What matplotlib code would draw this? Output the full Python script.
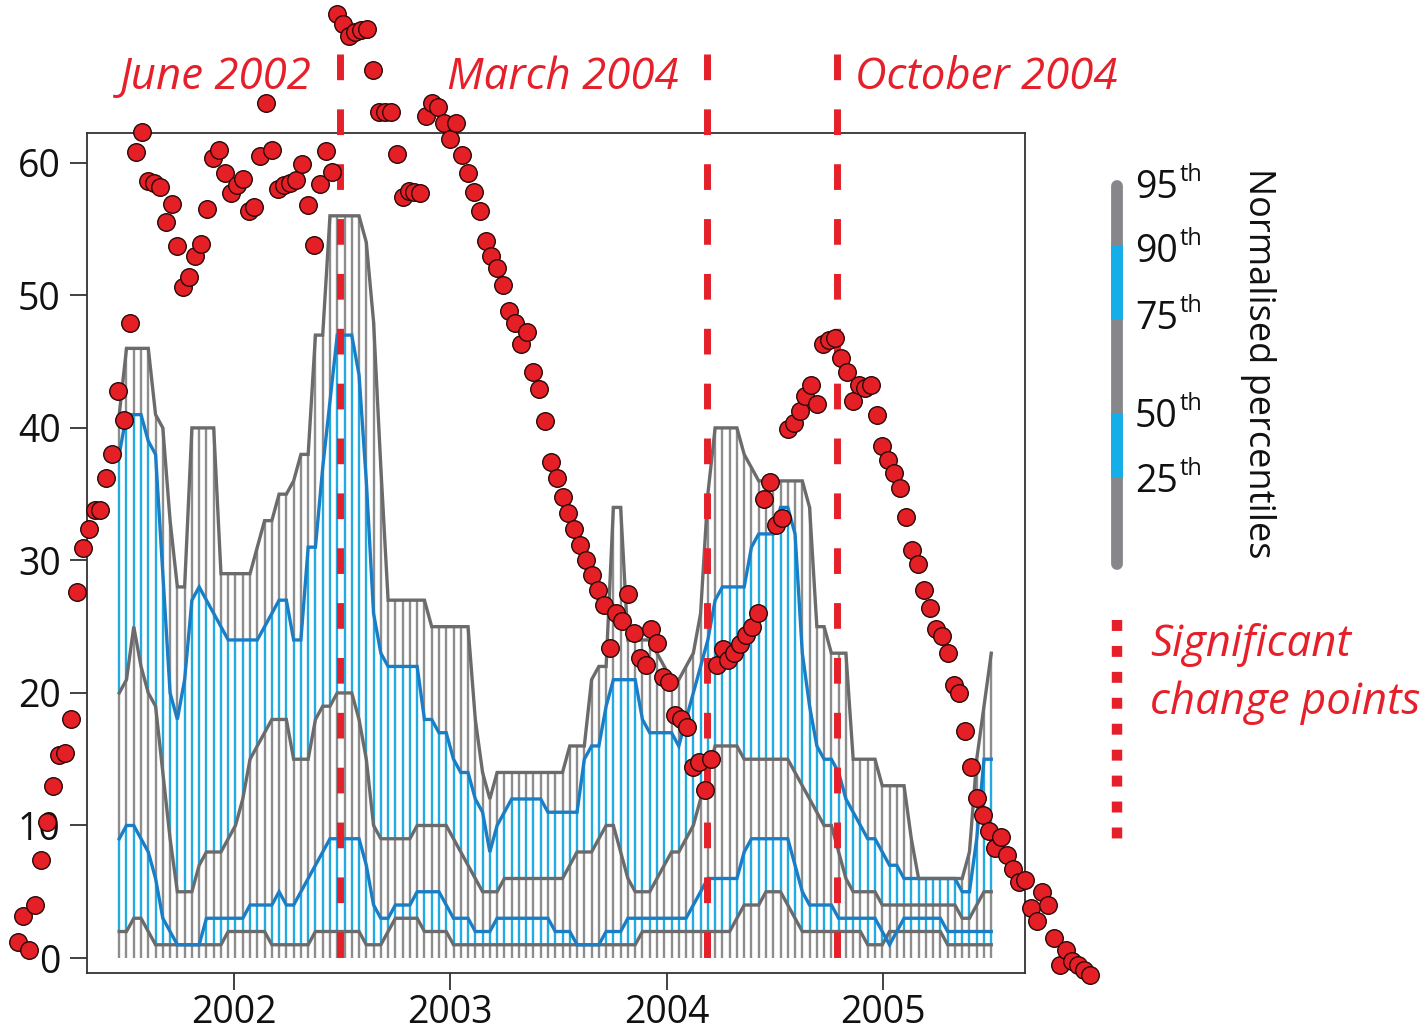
import numpy as np
import matplotlib
matplotlib.use("Agg")
import matplotlib.pyplot as plt

plt.rcParams['font.family'] = ['Open Sans', 'DejaVu Sans']

# ===== Data =====
# percentile bands, one value per time step (decimal years from mid 2001 to mid 2005)
p95 = [41, 46, 46, 46, 46, 41, 40, 33, 28, 28,
       40, 40, 40, 40, 29, 29, 29, 29, 29, 31,
       33, 33, 35, 35, 36, 38, 38, 47, 47, 56,
       56, 56, 56, 56, 54, 48, 37, 27, 27, 27,
       27, 27, 27, 25, 25, 25, 25, 25, 25, 18,
       14, 12, 14, 14, 14, 14, 14, 14, 14, 14,
       14, 14, 16, 16, 16, 21, 22, 22, 34, 34,
       24, 24, 24, 24, 23, 22, 21, 21, 22, 23,
       26, 35, 40, 40, 40, 40, 38, 37, 36, 36,
       36, 36, 36, 36, 36, 34, 25, 25, 23, 23,
       23, 15, 15, 15, 15, 13, 13, 13, 13, 9,
       6, 6, 6, 6, 6, 6, 6, 8, 15, 19, 23]
p90 = [38, 41, 41, 41, 39, 38, 29, 20, 18, 21,
       27, 28, 27, 26, 25, 24, 24, 24, 24, 24,
       25, 26, 27, 27, 24, 24, 31, 31, 37, 42,
       47, 47, 47, 44, 36, 26, 23, 22, 22, 22,
       22, 22, 18, 18, 17, 17, 15, 14, 14, 12,
       11, 8, 10, 11, 12, 12, 12, 12, 12, 11,
       11, 11, 11, 11, 15, 16, 16, 19, 21, 21,
       21, 21, 18, 17, 17, 17, 17, 16, 18, 20,
       22, 24, 27, 28, 28, 28, 28, 31, 32, 32,
       32, 34, 34, 32, 23, 19, 16, 15, 15, 14,
       12, 11, 10, 9, 9, 8, 7, 7, 6, 6,
       6, 6, 6, 6, 6, 6, 5, 5, 9, 15, 15]
p75 = [20, 21, 25, 22, 20, 19, 14, 9, 5, 5,
       5, 7, 8, 8, 8, 9, 10, 12, 15, 16,
       17, 18, 18, 18, 15, 15, 15, 18, 19, 19,
       20, 20, 20, 18, 15, 10, 9, 9, 9, 9,
       9, 10, 10, 10, 10, 10, 9, 8, 7, 6,
       5, 5, 5, 6, 6, 6, 6, 6, 6, 6,
       6, 6, 7, 8, 8, 8, 9, 10, 10, 8,
       6, 5, 5, 5, 6, 7, 8, 8, 9, 10,
       12, 14, 16, 16, 16, 16, 15, 15, 15, 15,
       15, 15, 15, 14, 13, 12, 11, 10, 10, 8,
       6, 5, 5, 5, 5, 4, 4, 4, 4, 4,
       4, 4, 4, 4, 4, 4, 3, 3, 4, 5, 5]
p50 = [9, 10, 10, 9, 8, 6, 3, 2, 1, 1,
       1, 1, 3, 3, 3, 3, 3, 3, 4, 4,
       4, 4, 5, 4, 4, 5, 6, 7, 8, 9,
       9, 9, 9, 9, 7, 4, 3, 3, 4, 4,
       4, 5, 5, 5, 5, 4, 3, 3, 3, 2,
       2, 2, 3, 3, 3, 3, 3, 3, 3, 3,
       2, 2, 2, 1, 1, 1, 1, 2, 2, 2,
       3, 3, 3, 3, 3, 3, 3, 3, 3, 4,
       5, 6, 6, 6, 6, 6, 8, 9, 9, 9,
       9, 9, 9, 7, 5, 4, 4, 4, 4, 3,
       3, 3, 3, 3, 3, 2, 1, 2, 3, 3,
       3, 3, 3, 3, 2, 2, 2, 2, 2, 2, 2]
p25 = [2, 2, 3, 3, 2, 1, 1, 1, 1, 1,
       1, 1, 1, 1, 1, 2, 2, 2, 2, 2,
       2, 1, 1, 1, 1, 1, 1, 2, 2, 2,
       2, 2, 2, 2, 1, 1, 1, 2, 3, 3,
       3, 3, 2, 2, 2, 2, 1, 1, 1, 1,
       1, 1, 1, 1, 1, 1, 1, 1, 1, 1,
       1, 1, 1, 1, 1, 1, 1, 1, 1, 1,
       1, 1, 2, 2, 2, 2, 2, 2, 2, 2,
       2, 2, 2, 2, 2, 3, 4, 4, 4, 5,
       5, 5, 4, 3, 2, 2, 2, 2, 2, 2,
       2, 2, 2, 1, 1, 1, 2, 2, 2, 2,
       2, 2, 2, 2, 1, 1, 1, 1, 1, 1, 1]
pct_start, pct_end = 2001.47, 2005.50

# observed series, one point every 10 days from 1 Jan 2001
obs = [1.2, 3.2, 0.6, 4.0, 7.4, 10.3, 13.0, 15.3, 15.5, 18.0,
       27.6, 30.9, 32.4, 33.8, 33.8, 36.2, 38.0, 42.8, 40.6, 47.9,
       60.8, 62.3, 58.6, 58.5, 58.2, 55.5, 56.9, 53.7, 50.6, 51.4,
       53.0, 53.9, 56.5, 60.4, 61.0, 59.2, 57.7, 58.3, 58.8, 56.4,
       56.7, 60.5, 64.5, 61.0, 58.0, 58.3, 58.5, 58.7, 59.9, 56.8,
       53.8, 58.4, 60.9, 59.3, 71.2, 70.5, 69.6, 69.9, 70.0, 70.1,
       67.0, 63.8, 63.8, 63.8, 60.7, 57.4, 57.9, 57.8, 57.7, 63.5,
       64.5, 64.2, 63.0, 61.8, 63.0, 60.6, 59.2, 57.8, 56.4, 54.1,
       53.0, 52.1, 50.8, 48.8, 47.9, 46.3, 47.2, 44.2, 42.9, 40.5,
       37.4, 36.2, 34.8, 33.6, 32.4, 31.2, 30.0, 28.9, 27.8, 26.6,
       23.4, 26.0, 25.4, 27.5, 24.5, 22.6, 22.1, 24.8, 23.8, 21.2,
       20.8, 18.3, 18.0, 17.4, 14.4, 14.8, 12.7, 15.0, 22.1, 23.3,
       22.5, 23.0, 23.7, 24.4, 25.0, 26.0, 34.6, 35.9, 32.7, 33.2,
       39.9, 40.4, 41.3, 42.4, 43.2, 41.8, 46.3, 46.6, 46.8, 45.3,
       44.2, 42.0, 43.2, 43.0, 43.2, 41.0, 38.6, 37.6, 36.6, 35.5,
       33.3, 30.8, 29.7, 27.8, 26.4, 24.8, 24.3, 23.0, 20.6, 20.0,
       17.1, 14.4, 12.1, 10.8, 9.6, 8.3, 9.1, 7.8, 6.7, 5.7,
       5.9, 3.8, 2.8, 5.0, 4.0, 1.5, -0.5, 0.6, -0.2, -0.5,
       -0.9, -1.3]
obs_start = 2001.0
obs_step_days = 10

change_points = [2002.49, 2004.185, 2004.785]
change_labels = ['June 2002', 'March 2004', 'October 2004']

years = [2002, 2003, 2004, 2005]
yticks = [0, 10, 20, 30, 40, 50, 60]
legend_pcts = ['95', '90', '75', '50', '25']

# ===== Style =====
RED = '#e5202a'
GRAY_LINE = '#6b6b6b'
GRAY_HATCH = '#8d8d8d'
BLUE_LINE = '#1a7ec6'
BLUE_HATCH = '#22aae2'
AXIS = '#333333'

fig = plt.figure(figsize=(14.26, 10.34), dpi=100)
ax = fig.add_axes([0.061, 0.059, 0.6575, 0.8125])

pct_t = np.linspace(pct_start, pct_end, len(p95))
obs_t = obs_start + np.arange(len(obs)) * obs_step_days / 365.25

# vertical hatching between consecutive percentile curves
bands = [np.zeros(len(p25)), p25, p50, p75, p90, p95]
hatch_colors = [GRAY_HATCH, BLUE_HATCH, GRAY_HATCH, BLUE_HATCH, GRAY_HATCH]
for k in range(5):
    ax.vlines(pct_t, bands[k], bands[k + 1], colors=hatch_colors[k],
              linewidth=1.7, zorder=1)

line_colors = [GRAY_LINE, BLUE_LINE, GRAY_LINE, BLUE_LINE, GRAY_LINE]
for k in range(5):
    ax.plot(pct_t, bands[k + 1], color=line_colors[k], linewidth=2.4,
            solid_joinstyle='miter', zorder=2)

# change point markers and labels
for cp, label in zip(change_points, change_labels):
    ax.plot([cp, cp], [68.2, -0.1], color=RED, linewidth=5,
            linestyle=(0, (3.7, 4.2)), clip_on=False, zorder=3)
    if label.startswith('October'):
        off, ha = 13, 'left'
    else:
        off, ha = -20, 'right'
    ax.annotate(label, xy=(cp, 65.6), xytext=(off, 0),
                textcoords='offset points', ha=ha, va='baseline',
                fontsize=31.5, style='italic', color=RED,
                annotation_clip=False)

ax.scatter(obs_t, obs, s=160, color='#e41f26', edgecolor='#2a0808',
           linewidth=1.0, zorder=5, clip_on=False)

ax.set_xlim(2001.321, 2005.654)
ax.set_ylim(-1.13, 62.26)
ax.set_xticks(years)
ax.set_xticklabels([str(y) for y in years])
ax.set_yticks(yticks)
ax.tick_params(axis='both', labelsize=27, length=12, width=1.3,
               color=AXIS, labelcolor='#111111')
ax.tick_params(axis='y', pad=7)
ax.tick_params(axis='x', pad=3)
for sp in ax.spines.values():
    sp.set_color(AXIS)
    sp.set_linewidth(1.3)

# ===== Legend (pixel coordinates on a full-figure overlay) =====
lg = fig.add_axes([0, 0, 1, 1])
lg.set_xlim(0, 1426)
lg.set_ylim(1034, 0)
lg.axis('off')

bar_x = 1117
lg.plot([bar_x, bar_x], [186, 564], color='#87878b', linewidth=8.5,
        solid_capstyle='round')
lg.plot([bar_x, bar_x], [245, 320], color='#14aeea', linewidth=8.5,
        solid_capstyle='butt')
lg.plot([bar_x, bar_x], [413, 478], color='#14aeea', linewidth=8.5,
        solid_capstyle='butt')

label_y = [188, 252, 319, 417, 482]
for pct, y in zip(legend_pcts, label_y):
    lg.text(1135, y, pct, fontsize=27, va='center', ha='left', color='#111111')
    lg.text(1180, y - 13, 'th', fontsize=17, va='center', ha='left',
            color='#111111')

lg.text(1258, 363, 'Normalised percentiles', rotation=-90, fontsize=26,
        ha='center', va='center', color='#111111')

lg.plot([bar_x, bar_x], [620, 852], color=RED, linewidth=7.5,
        linestyle=(0, (1.05, 1.44)))
lg.text(1150, 645, 'Significant', fontsize=31.5, style='italic', color=RED,
        ha='left', va='center')
lg.text(1150, 703, 'change points', fontsize=31.5, style='italic', color=RED,
        ha='left', va='center')

fig.savefig('out.png', dpi=100)
